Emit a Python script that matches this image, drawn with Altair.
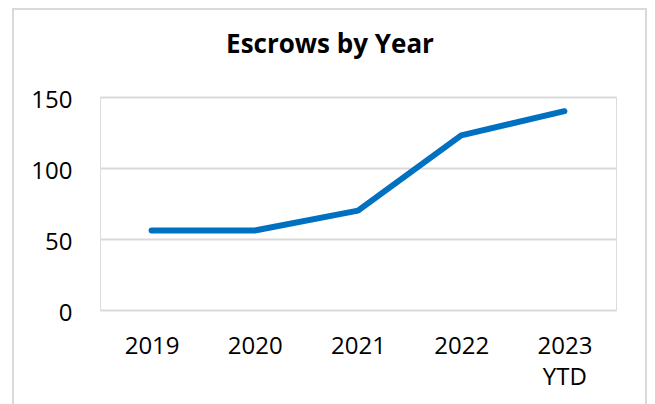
import altair as alt
import pandas as pd

years = ["2019", "2020", "2021", "2022", "2023 YTD"]
escrows = [56, 56, 70, 123, 140]
y_ticks = [0, 50, 100, 150]

df = pd.DataFrame({"year": years, "escrows": escrows})

FONT = "Open Sans"

base = alt.Chart(df)

line = base.mark_line(color="#0070C0", strokeWidth=6, strokeCap="round", strokeJoin="round").encode(
    x=alt.X(
        "year:N",
        sort=years,
        title=None,
        scale=alt.Scale(type="point", padding=0.5),
        axis=alt.Axis(
            labelExpr="split(datum.label, ' ')",
            labelAngle=0,
            labelFont=FONT,
            labelFontSize=24,
            labelColor="#000000",
            labelPadding=24,
            labelLineHeight=31,
            labelBaseline="top",
            ticks=False,
            domain=False,
            grid=False,
        ),
    ),
    y=alt.Y(
        "escrows:Q",
        title=None,
        scale=alt.Scale(domain=[0, 150], nice=False),
        axis=alt.Axis(
            values=y_ticks,
            labelFont=FONT,
            labelFontSize=24,
            labelColor="#000000",
            labelPadding=28,
            labelOffset=3,
            ticks=False,
            domain=False,
            grid=True,
            gridColor="#d9d9d9",
            gridWidth=2,
        ),
    ),
)

frame = alt.Chart(pd.DataFrame({"f": [0]})).mark_rect(
    fillOpacity=0, stroke="#d9d9d9", strokeWidth=2
).encode(
    x=alt.value(-87),
    x2=alt.value(546),
    y=alt.value(-88),
    y2=alt.value(330),
)

chart = alt.layer(frame, line).properties(
    width=516,
    height=213,
    title=alt.Title(
        "Escrows by Year",
        font=FONT,
        fontSize=26,
        fontWeight="bold",
        color="#000000",
        anchor="middle",
        frame="group",
        baseline="alphabetic",
        dx=-28,
        offset=-71,
    ),
    autosize=alt.AutoSizeParams(type="none"),
    padding={"left": 92, "top": 89, "right": 31, "bottom": 100},
).configure_view(stroke=None).configure(background="white")

chart.save("out.html", embed_options={"renderer": "svg", "actions": False})
